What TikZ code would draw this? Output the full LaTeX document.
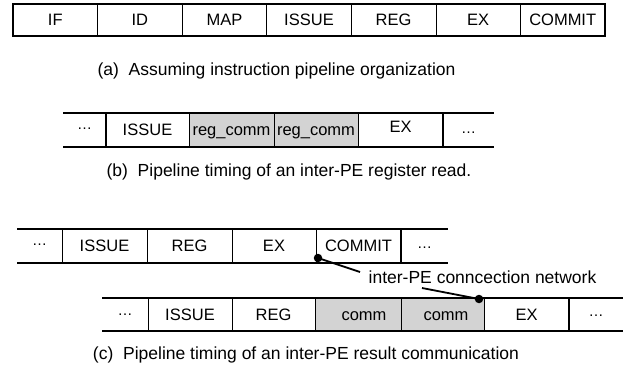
\documentclass[tikz,border=0pt]{standalone}
\usepackage{fontspec}
\setmainfont{Liberation Sans}
\usepackage{tikz}
\usetikzlibrary{positioning,calc}

\definecolor{cellgray}{RGB}{211,211,211}
\tikzset{
	lbl/.style={font=\fontsize{16.5}{19}\selectfont,inner sep=0pt,text height=11.8pt,text depth=0pt},
	dotstxt/.style={font=\fontsize{15}{18}\selectfont,inner sep=0pt},
	captxt/.style={font=\fontsize{17.5}{21}\selectfont,inner sep=0pt},
	rowline/.style={line width=2pt},
	sep/.style={line width=0.8pt},
	bigsep/.style={line width=2pt},
	netdot/.style={circle,fill=black,inner sep=0pt,minimum size=8.5pt}
}

\begin{document}
\begin{tikzpicture}[x=1pt,y=-1pt]
		\useasboundingbox (0,0) rectangle (623,374);
		% (a)
		\draw[sep] (97.6,4) -- (97.6,36) (182.1,4) -- (182.1,36) (266.7,4) -- (266.7,36) (351.3,4) -- (351.3,36) (435.9,4) -- (435.9,36) (520.4,4) -- (520.4,36);
		\draw[line width=2.4pt] (13,4) rectangle (605,36);
		\node[lbl] (aif) at (55.3,20) {IF};
		\node[lbl] (aid) at (139.9,20) {ID};
		\node[lbl] (amap) at (224.4,20) {MAP};
		\node[lbl] (aissue) at (309,20) {ISSUE};
		\node[lbl] (areg) at (393.6,20) {REG};
		\node[lbl] (aex) at (478.1,20) {EX};
		\node[lbl] (acommit) at (562.7,20) {COMMIT};
		\node[captxt] (capa) at (276.5,71) {(a)~~Assuming instruction pipeline organization};
		% (b)
		\fill[cellgray] (189,113) rectangle (358,147);
		\draw[rowline] (63,113) -- (494,113) (63,147) -- (494,147);
		\draw[line width=1.3pt] (106,113) -- (106,147);
		\draw[sep] (189,113) -- (189,147) (274,113) -- (274,147) (358,113) -- (358,147);
		\draw[bigsep] (443,113) -- (443,147);
		\node[dotstxt] (bdl) at (84.5,129) {\ldots};
		\node[lbl] (bissue) at (147.5,130) {ISSUE};
		\node[lbl] (brc1) at (231.5,130) {reg\_comm};
		\node[lbl] (brc2) at (316,130) {reg\_comm};
		\node[lbl] (bex) at (400.5,127) {EX};
		\node[dotstxt] (bdr) at (468.5,133) {\ldots};
		\node[captxt] (capb) at (289,172) {(b)~~Pipeline timing of an inter-PE register read.};
		% (c) sender
		\draw[rowline] (17,229) -- (448,229) (17,263) -- (448,263);
		\draw[sep] (62,229) -- (62,263) (147,229) -- (147,263) (232,229) -- (232,263) (316,229) -- (316,263);
		\draw[bigsep] (401,229) -- (401,263);
		\node[dotstxt] (udl) at (39.5,245) {\ldots};
		\node[lbl] (uissue) at (104.5,246) {ISSUE};
		\node[lbl] (ureg) at (189.5,246) {REG};
		\node[lbl] (uex) at (274,246) {EX};
		\node[lbl] (ucommit) at (358.5,246) {COMMIT};
		\node[dotstxt] (udr) at (424.5,248) {\ldots};
		% (c) receiver
		\fill[cellgray] (315,298) rectangle (484,331);
		\draw[rowline] (102,298) -- (623,298) (102,331) -- (623,331);
		\draw[sep] (148,298) -- (148,331) (232,298) -- (232,331) (315,298) -- (315,331) (401,298) -- (401,331) (484,298) -- (484,331);
		\draw[bigsep] (569,298) -- (569,331);
		\node[dotstxt] (ldl) at (125,315) {\ldots};
		\node[lbl] (lissue) at (190,314.5) {ISSUE};
		\node[lbl] (lreg) at (273.5,314.5) {REG};
		\node[lbl] (lcomm1) at (364,314.5) {comm};
		\node[lbl] (lcomm2) at (446,314.5) {comm};
		\node[lbl] (lex) at (526.5,314.5) {EX};
		\node[dotstxt] (ldr) at (596,316) {\ldots};
		% network
		\node[netdot] (d1) at (318,258) {};
		\node[netdot] (d2) at (479,299) {};
		\node[captxt,anchor=base] (net) at (482.5,283) {inter-PE conncection network};
		\coordinate (n1) at (360,272);
		\coordinate (n2) at (422,288);
		\draw[line width=1.8pt] (d1.center) -- (n1);
		\draw[line width=1.8pt] (n2) -- (d2.center);
		\node[captxt] (capc) at (306,355) {(c)~~Pipeline timing of an inter-PE result communication};
\end{tikzpicture}
\end{document}
